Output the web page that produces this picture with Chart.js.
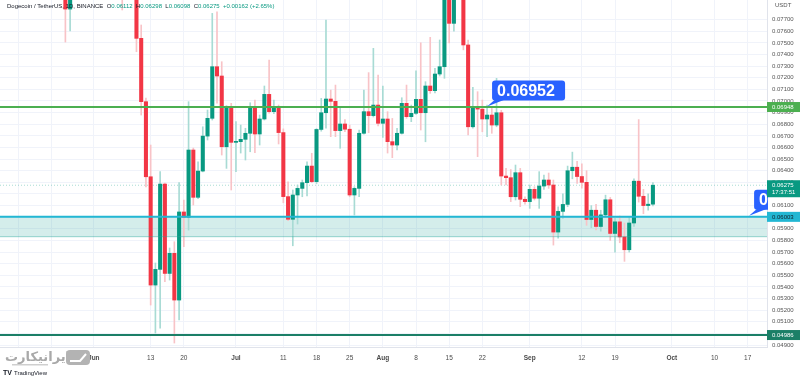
<!DOCTYPE html>
<html>
<head>
<meta charset="utf-8">
<script src="https://cdn.jsdelivr.net/npm/chart.js@4.4.0/dist/chart.umd.min.js"></script>
<style>
  html, body { margin: 0; padding: 0; background: #fff; }
  #wrap { width: 800px; height: 377px; position: relative; }
</style>
</head>
<body>
<div id="wrap"><canvas id="chart" width="800" height="377"></canvas></div>
<script>
// daily DOGE/USDT candles (hidden tops are rough guesses above the pane)
const dates = [
  '2022-05-26', '2022-05-27', '2022-06-07', '2022-06-10', '2022-06-11', '2022-06-12', '2022-06-13', '2022-06-14',
  '2022-06-15', '2022-06-16', '2022-06-17', '2022-06-18', '2022-06-19', '2022-06-20', '2022-06-21', '2022-06-22',
  '2022-06-23', '2022-06-24', '2022-06-25', '2022-06-26', '2022-06-27', '2022-06-28', '2022-06-29', '2022-06-30',
  '2022-07-01', '2022-07-02', '2022-07-03', '2022-07-04', '2022-07-05', '2022-07-06', '2022-07-07', '2022-07-08',
  '2022-07-09', '2022-07-10', '2022-07-11', '2022-07-12', '2022-07-13', '2022-07-14', '2022-07-15', '2022-07-16',
  '2022-07-17', '2022-07-18', '2022-07-19', '2022-07-20', '2022-07-21', '2022-07-22', '2022-07-23', '2022-07-24',
  '2022-07-25', '2022-07-26', '2022-07-27', '2022-07-28', '2022-07-29', '2022-07-30', '2022-07-31',
  '2022-08-01', '2022-08-02', '2022-08-03', '2022-08-04', '2022-08-05', '2022-08-06', '2022-08-07', '2022-08-08',
  '2022-08-09', '2022-08-10', '2022-08-11', '2022-08-12', '2022-08-13', '2022-08-14', '2022-08-15', '2022-08-16',
  '2022-08-17', '2022-08-18', '2022-08-19', '2022-08-20', '2022-08-21', '2022-08-22', '2022-08-23', '2022-08-24',
  '2022-08-25', '2022-08-26', '2022-08-27', '2022-08-28', '2022-08-29', '2022-08-30', '2022-08-31',
  '2022-09-01', '2022-09-02', '2022-09-03', '2022-09-04', '2022-09-05', '2022-09-06', '2022-09-07', '2022-09-08',
  '2022-09-09', '2022-09-10', '2022-09-11', '2022-09-12', '2022-09-13', '2022-09-14', '2022-09-15', '2022-09-16',
  '2022-09-17', '2022-09-18', '2022-09-19', '2022-09-20', '2022-09-21', '2022-09-22', '2022-09-23', '2022-09-24',
  '2022-09-25', '2022-09-26', '2022-09-27'
];
const opens = [
  0.0830, 0.07791, 0.0835, 0.0800, 0.07539, 0.06994, 0.06348, 0.05416,
  0.05551, 0.06285, 0.05516, 0.05689, 0.05287, 0.06045, 0.06000, 0.06578,
  0.06171, 0.06397, 0.06698, 0.06851, 0.07295, 0.07215, 0.06606, 0.06951,
  0.06644, 0.06650, 0.06670, 0.06722, 0.06942, 0.06716, 0.06845, 0.07057,
  0.06908, 0.06951, 0.06728, 0.06177, 0.05982, 0.06191, 0.06248, 0.06297,
  0.06440, 0.06306, 0.06755, 0.06899, 0.07017, 0.06997, 0.06745, 0.06802,
  0.06757, 0.06191, 0.06248, 0.06722, 0.06908, 0.06874, 0.06965,
  0.06808, 0.06845, 0.06650, 0.06621, 0.06722, 0.06980, 0.06865, 0.06894,
  0.07014, 0.06899, 0.07129, 0.07089, 0.07232, 0.07295, 0.0805, 0.07668,
  0.0810, 0.0790, 0.07482, 0.06778, 0.06937, 0.06930, 0.06845, 0.06879,
  0.06793, 0.06899, 0.06354, 0.06340, 0.06176, 0.06383, 0.06154,
  0.06134, 0.06240, 0.06163, 0.06268, 0.06320, 0.06277, 0.05872, 0.06050,
  0.06110, 0.06400, 0.06430, 0.06350, 0.06300, 0.05980, 0.06060, 0.05920,
  0.06020, 0.06150, 0.05860, 0.05960, 0.05830, 0.05720, 0.05950, 0.06310,
  0.06180, 0.06100, 0.06112
];
const highs = [
  0.0840, 0.0815, 0.0840, 0.0810, 0.07654, 0.07025, 0.06621, 0.05606,
  0.06392, 0.06294, 0.05735, 0.05789, 0.06297, 0.06148, 0.06994, 0.06595,
  0.06477, 0.06778, 0.06922, 0.07754, 0.07768, 0.07338, 0.06960, 0.06980,
  0.06822, 0.06793, 0.06765, 0.06985, 0.07008, 0.06879, 0.07129, 0.07352,
  0.07008, 0.06965, 0.06760, 0.06305, 0.06234, 0.06277, 0.06320, 0.06477,
  0.06550, 0.06762, 0.07023, 0.07697, 0.07094, 0.07137, 0.06947, 0.06840,
  0.06793, 0.06262, 0.06750, 0.07094, 0.07244, 0.07453, 0.07223,
  0.07129, 0.06908, 0.06850, 0.06765, 0.07028, 0.07137, 0.06965, 0.07260,
  0.07501, 0.07166, 0.07548, 0.07281, 0.07525, 0.0830, 0.0835, 0.0870,
  0.0825, 0.0800, 0.07525, 0.07118, 0.07080, 0.07008, 0.06965, 0.06936,
  0.07195, 0.06920, 0.06420, 0.06410, 0.06449, 0.06420, 0.06176,
  0.06277, 0.06262, 0.06392, 0.06363, 0.06380, 0.06320, 0.06090, 0.06200,
  0.06440, 0.06560, 0.06480, 0.06460, 0.06400, 0.06100, 0.06110, 0.06060,
  0.06190, 0.06170, 0.05990, 0.06010, 0.05950, 0.06000, 0.06330, 0.06840,
  0.06240, 0.06200, 0.06298
];
const lows = [
  0.07507, 0.07602, 0.07783, 0.07424, 0.06879, 0.06260, 0.05244, 0.05003,
  0.05046, 0.05445, 0.05459, 0.04917, 0.05115, 0.05746, 0.05889, 0.06105,
  0.06160, 0.06390, 0.06664, 0.06836, 0.06982, 0.06535, 0.06420, 0.06234,
  0.06391, 0.06552, 0.06492, 0.06563, 0.06555, 0.06621, 0.06836, 0.06896,
  0.06890, 0.06630, 0.06124, 0.05970, 0.05754, 0.05941, 0.06176, 0.06182,
  0.06297, 0.06290, 0.06740, 0.06765, 0.06693, 0.06693, 0.06593, 0.06735,
  0.06176, 0.06019, 0.06176, 0.06715, 0.06727, 0.06862, 0.06785,
  0.06687, 0.06552, 0.06512, 0.06578, 0.06715, 0.06851, 0.06822, 0.06885,
  0.06750, 0.06649, 0.07066, 0.07070, 0.07215, 0.07195, 0.07499, 0.07600,
  0.0788, 0.07440, 0.06707, 0.06765, 0.06521, 0.06735, 0.06692, 0.06722,
  0.06778, 0.06277, 0.06277, 0.06134, 0.06148, 0.06091, 0.06113,
  0.06076, 0.06148, 0.06076, 0.06240, 0.06248, 0.05760, 0.05820, 0.05990,
  0.06090, 0.06330, 0.06290, 0.06250, 0.05930, 0.05910, 0.05890, 0.05880,
  0.06000, 0.05800, 0.05700, 0.05780, 0.05620, 0.05700, 0.05920, 0.06130,
  0.06030, 0.06060, 0.06098
];
const closes = [
  0.07791, 0.0805, 0.0815, 0.07539, 0.06994, 0.06348, 0.05416, 0.05551,
  0.06285, 0.05516, 0.05689, 0.05287, 0.06045, 0.06000, 0.06578, 0.06171,
  0.06397, 0.06698, 0.06851, 0.07295, 0.07215, 0.06606, 0.06951, 0.06644,
  0.06650, 0.06670, 0.06722, 0.06942, 0.06716, 0.06845, 0.07057, 0.06908,
  0.06951, 0.06728, 0.06177, 0.05982, 0.06191, 0.06248, 0.06297, 0.06440,
  0.06306, 0.06755, 0.06899, 0.07017, 0.06997, 0.06745, 0.06802, 0.06757,
  0.06191, 0.06248, 0.06722, 0.06908, 0.06874, 0.06965, 0.06808,
  0.06845, 0.06650, 0.06621, 0.06722, 0.06980, 0.06865, 0.06894, 0.07014,
  0.06899, 0.07129, 0.07089, 0.07232, 0.07295, 0.0805, 0.07668, 0.0810,
  0.0790, 0.07482, 0.06778, 0.06937, 0.06930, 0.06845, 0.06879, 0.06793,
  0.06899, 0.06354, 0.06340, 0.06176, 0.06383, 0.06154, 0.06134,
  0.06240, 0.06163, 0.06268, 0.06320, 0.06277, 0.05872, 0.06050, 0.06110,
  0.06400, 0.06430, 0.06350, 0.06300, 0.05980, 0.06060, 0.05920, 0.06020,
  0.06150, 0.05860, 0.05960, 0.05830, 0.05720, 0.05950, 0.06310, 0.06180,
  0.06100, 0.06112, 0.06275
];

// time axis: days counted from 1 Jun 2022
const tickDays   = [-16, -9, 0, 12, 19, 30, 40, 47, 54, 61, 68, 75, 82, 92, 103, 110, 122, 131, 138];
const tickLabels = ['16', '23', 'Jun', '13', '20', 'Jul', '11', '18', '25', 'Aug', '8', '15', '22', 'Sep', '12', '19', 'Oct', '10', '17'];
const monthLabels = ['Jun', 'Jul', 'Aug', 'Sep', 'Oct'];
const priceTicks = [];
for (let p = 49; p <= 77; p++) priceTicks.push(p / 1000);

// drawn levels
const resistance = 0.06948;
const support = 0.06003;
const zoneBottom = 0.05832;
const bottomLine = 0.04986;
const lastPrice = 0.06275;
const calloutPrice = 0.06952;
const calloutDay = 83;
const calloutRightDay = 138.3;
const headerTitle = 'Dogecoin / TetherUS, 1D, BINANCE';
const headerChange = '+0.00162 (+2.65%)';
const countdown = '17:37:51';

const DAY0 = Date.parse('2022-06-01');
const dayOf = s => (Date.parse(s) - DAY0) / 86400000;

const UP = '#089981', DOWN = '#f23645';
const WICK_UP = '#a8dbd4', WICK_DOWN = '#f8c3c7';
const FONT = '"Liberation Sans", Arial, sans-serif';

const isUp = i => closes[i] >= opens[i];

function roundRect(ctx, x, y, w, h, r) {
  ctx.beginPath();
  ctx.moveTo(x + r, y);
  ctx.lineTo(x + w - r, y);
  ctx.quadraticCurveTo(x + w, y, x + w, y + r);
  ctx.lineTo(x + w, y + h - r);
  ctx.quadraticCurveTo(x + w, y + h, x + w - r, y + h);
  ctx.lineTo(x + r, y + h);
  ctx.quadraticCurveTo(x, y + h, x, y + h - r);
  ctx.lineTo(x, y + r);
  ctx.quadraticCurveTo(x, y, x + r, y);
  ctx.closePath();
}

function hLine(ctx, area, y, color, width) {
  ctx.save();
  ctx.strokeStyle = color;
  ctx.lineWidth = width;
  ctx.beginPath();
  ctx.moveTo(area.left, y);
  ctx.lineTo(area.right, y);
  ctx.stroke();
  ctx.restore();
}

function axisTag(ctx, area, y, lines, bg, fg) {
  const h = lines.length === 1 ? 10 : 17;
  ctx.save();
  ctx.fillStyle = bg;
  ctx.fillRect(area.right, y - 5, 33, h);
  ctx.fillStyle = fg;
  ctx.font = '6px ' + FONT;
  ctx.textBaseline = 'middle';
  ctx.textAlign = 'left';
  lines.forEach((t, k) => ctx.fillText(t, area.right + 5, y + k * 7));
  ctx.restore();
}

function callout(ctx, ax, ay, text) {
  const bx = ax + 5, by = ay - 26, bw = 73, bh = 20;
  ctx.fillStyle = '#2962ff';
  roundRect(ctx, bx, by, bw, bh, 3);
  ctx.fill();
  ctx.beginPath();
  ctx.moveTo(bx + 3, by + bh - 1);
  ctx.lineTo(bx + 13, by + bh - 1);
  ctx.lineTo(ax, ay);
  ctx.closePath();
  ctx.fill();
  ctx.fillStyle = '#fff';
  ctx.font = 'bold 16px ' + FONT;
  ctx.textAlign = 'left';
  ctx.textBaseline = 'middle';
  ctx.fillText(text, bx + 5, by + bh / 2 + 1);
}

// keep the pane flush with the canvas edges
const noPad = s => { s.paddingTop = 0; s.paddingBottom = 0; s.paddingLeft = 0; s.paddingRight = 0; };

const overlay = {
  id: 'overlay',
  beforeDatasetsDraw(chart) {
    const { ctx, chartArea: a, scales: { y } } = chart;
    ctx.save();
    const y1 = y.getPixelForValue(support), y2 = y.getPixelForValue(zoneBottom);
    ctx.fillStyle = 'rgba(38,166,154,0.2)';
    ctx.fillRect(a.left, y1, a.right - a.left, y2 - y1);
    ctx.setLineDash([1, 2]);
    hLine(ctx, a, y.getPixelForValue(lastPrice), 'rgba(8,153,129,0.35)', 1);
    ctx.restore();
  },
  afterDatasetsDraw(chart) {
    const { ctx, chartArea: a, scales: { x, y } } = chart;
    ctx.save();
    hLine(ctx, a, y.getPixelForValue(zoneBottom), 'rgba(38,166,154,0.45)', 1);
    hLine(ctx, a, y.getPixelForValue(support), '#22b7d3', 2);
    hLine(ctx, a, y.getPixelForValue(resistance), '#4caf50', 2);
    hLine(ctx, a, y.getPixelForValue(bottomLine), '#1b7f67', 2);

    callout(ctx, x.getPixelForValue(calloutDay), y.getPixelForValue(calloutPrice), calloutPrice.toFixed(5));

    // second callout runs off the pane and is cut at the price scale
    ctx.save();
    ctx.beginPath();
    ctx.rect(a.left, a.top, a.right - a.left + 1, a.bottom - a.top);
    ctx.clip();
    callout(ctx, x.getPixelForValue(calloutRightDay), y.getPixelForValue(support) - 1, support.toFixed(5));
    ctx.restore();
    ctx.restore();
  },
  afterDraw(chart) {
    const { ctx, chartArea: a, scales: { y } } = chart;
    ctx.save();

    // price scale tags
    axisTag(ctx, a, y.getPixelForValue(resistance), [resistance.toFixed(5)], '#4caf50', '#fff');
    axisTag(ctx, a, y.getPixelForValue(lastPrice), [lastPrice.toFixed(5), countdown], UP, '#fff');
    axisTag(ctx, a, y.getPixelForValue(support), [support.toFixed(5)], '#22b7d3', '#10202a');
    axisTag(ctx, a, y.getPixelForValue(bottomLine), [bottomLine.toFixed(5)], '#1b7f67', '#fff');

    ctx.fillStyle = '#555';
    ctx.font = '6px ' + FONT;
    ctx.textBaseline = 'middle';
    ctx.fillText('USDT', a.right + 8, 5);

    // legend line at the top
    const last = closes.length - 1;
    const parts = [
      [headerTitle + '  ', '#131722'],
      ['O', '#131722'], [opens[last].toFixed(5) + '  ', UP],
      ['H', '#131722'], [highs[last].toFixed(5) + '  ', UP],
      ['L', '#131722'], [lows[last].toFixed(5) + '  ', UP],
      ['C', '#131722'], [closes[last].toFixed(5) + '  ', UP],
      [headerChange, UP]
    ];
    ctx.font = '6px ' + FONT;
    ctx.textAlign = 'left';
    let tx = 7;
    parts.forEach(([t, c]) => {
      ctx.fillStyle = c;
      ctx.fillText(t, tx, 6);
      tx += ctx.measureText(t).width;
    });

    // watermark
    ctx.fillStyle = '#fff';
    ctx.fillRect(0, 349, 90, 19);
    ctx.fillStyle = '#a9a9a9';
    ctx.font = 'bold 13px "DejaVu Sans", sans-serif';
    ctx.textAlign = 'left';
    ctx.textBaseline = 'alphabetic';
    ctx.fillText('ایرانیکارت', 5, 361);
    ctx.fillStyle = '#cfcfcf';
    ctx.fillRect(12, 364, 36, 1.5);
    ctx.fillStyle = '#b3b3b3';
    roundRect(ctx, 66, 350, 24, 15, 4);
    ctx.fill();
    ctx.strokeStyle = '#fff';
    ctx.lineWidth = 2;
    ctx.beginPath();
    ctx.moveTo(70, 361);
    ctx.lineTo(80, 361);
    ctx.lineTo(86, 354);
    ctx.stroke();

    // logo
    ctx.fillStyle = '#131722';
    ctx.font = 'bold 7px ' + FONT;
    ctx.fillText('TV', 3, 375);
    ctx.font = '6px ' + FONT;
    ctx.fillText('TradingView', 14, 375);
    ctx.restore();
  }
};

const ctx = document.getElementById('chart').getContext('2d');
new Chart(ctx, {
  type: 'bar',
  data: {
    datasets: [
      {
        label: 'wicks',
        data: dates.map((d, i) => ({ x: dayOf(d), y: [lows[i], highs[i]] })),
        backgroundColor: dates.map((d, i) => isUp(i) ? WICK_UP : WICK_DOWN),
        barThickness: 1,
        grouped: false,
        order: 2
      },
      {
        label: 'bodies',
        data: dates.map((d, i) => ({ x: dayOf(d), y: [opens[i], closes[i]] })),
        backgroundColor: dates.map((d, i) => isUp(i) ? UP : DOWN),
        barThickness: 3.4,
        minBarLength: 1,
        grouped: false,
        order: 1
      }
    ]
  },
  options: {
    responsive: false,
    animation: false,
    devicePixelRatio: 1,
    layout: { padding: 0 },
    plugins: { legend: { display: false }, tooltip: { enabled: false } },
    scales: {
      x: {
        type: 'linear',
        offset: false,
        min: -19.8,
        max: 142.08,
        afterBuildTicks: s => { s.ticks = tickDays.map(v => ({ value: v })); },
        afterFit: s => { s.height = 30; noPad(s); },
        grid: { color: '#f0f3fa', drawTicks: false, offset: false },
        border: { color: '#e0e3eb' },
        ticks: {
          autoSkip: false,
          maxRotation: 0,
          padding: 7,
          color: '#4a4a4a',
          font: c => ({ family: FONT, size: 6.5, weight: monthLabels.includes(tickLabels[tickDays.indexOf(c.tick && c.tick.value)]) ? 'bold' : 'normal' }),
          callback: v => tickLabels[tickDays.indexOf(v)]
        }
      },
      y: {
        type: 'linear',
        position: 'right',
        min: 0.04883,
        max: 0.07869,
        afterBuildTicks: s => { s.ticks = priceTicks.map(v => ({ value: v })); },
        afterFit: s => { s.width = 33; noPad(s); },
        grid: { color: '#f0f3fa', drawTicks: false },
        border: { color: '#e0e3eb' },
        ticks: {
          padding: 5,
          color: '#555',
          font: { family: FONT, size: 6 },
          callback: v => v.toFixed(5)
        }
      }
    }
  },
  plugins: [overlay]
});
</script>
</body>
</html>
